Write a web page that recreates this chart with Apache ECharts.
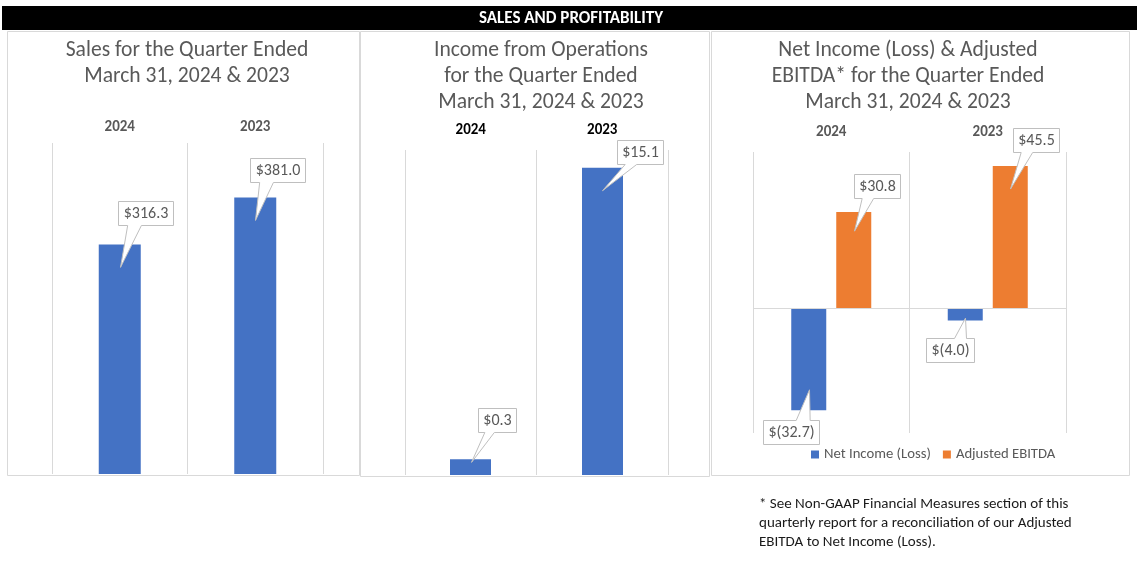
<!DOCTYPE html>
<html>
<head>
<meta charset="utf-8">
<script src="https://cdn.jsdelivr.net/npm/echarts@6.0.0/dist/echarts.min.js"></script>
<style>
html,body{margin:0;padding:0;background:#fff;}
#chart{width:1141px;height:571px;}
</style>
</head>
<body>
<div id="chart"></div>
<script>
// ---------- data ----------
const salesCategories = ['2024', '2023'];
const salesValues = [316.3, 381.0];

const incomeCategories = ['2024', '2023'];
const incomeValues = [0.3, 15.1];

const netCategories = ['2024', '2023'];
const netIncomeValues = [-32.7, -4.0];
const ebitdaValues = [30.8, 45.5];

const seriesNames = ['Net Income (Loss)', 'Adjusted EBITDA'];

const headerText = 'SALES AND PROFITABILITY';
const titleSales = ['Sales for the Quarter Ended', 'March 31, 2024 & 2023'];
const titleIncome = ['Income from Operations', 'for the Quarter Ended', 'March 31, 2024 & 2023'];
const titleNet = ['Net Income (Loss) & Adjusted', 'EBITDA* for the Quarter Ended', 'March 31, 2024 & 2023'];
const footnoteLines = [
  '* See Non-GAAP Financial Measures section of this',
  'quarterly report for a reconciliation of our Adjusted',
  'EBITDA to Net Income (Loss).'
];

// ---------- style / layout ----------
const FONT = "Carlito, Lato, 'Open Sans', sans-serif";
const BLUE = '#4472C4';
const ORANGE = '#ED7D31';
const GRID = '#d9d9d9';
const GRAY = '#595959';

const INCOME_MIN = -0.5, INCOME_MAX = 16;
const NET_BAR_W = 35, NET_BAR_GAP = 10;
const NET_SHIFT = (NET_BAR_W + NET_BAR_GAP) / 2;

// callout box centre offsets relative to bar end (layout only)
const salesCalloutOffsets = [[26, -31], [22.5, -27.5]];
const incomeCalloutOffsets = [[26, -39], [37.5, -16]];
const netCalloutOffsets = [[-17.5, 22], [-15.5, 29]];
const ebitdaCalloutOffsets = [[23, -26], [25.5, -26]];

function fmt(v) {
  return v < 0 ? '$(' + Math.abs(v).toFixed(1) + ')' : '$' + v.toFixed(1);
}

const measureCtx = document.createElement('canvas').getContext('2d');
const CALLOUT_FONT = '16px ' + FONT;
function textWidth(t, font) { measureCtx.font = font; return measureCtx.measureText(t).width; }

function wedgePoints(l, t, w, h, tip) {
  const r = l + w, b = t + h, cx = l + w / 2, cy = t + h / 2;
  const dx = tip[0] - cx, dy = tip[1] - cy;
  const dz = Math.abs(dy) - Math.abs(dx * h / w);
  const x1 = l + w * (dx > 0 ? 7 : 2) / 12, x2 = l + w * (dx > 0 ? 10 : 5) / 12;
  const y1 = t + h * (dy > 0 ? 7 : 2) / 12, y2 = t + h * (dy > 0 ? 10 : 5) / 12;
  if (dz > 0) {
    if (dy > 0) return [[l, t], [r, t], [r, b], [x2, b], tip, [x1, b], [l, b]];
    return [[l, t], [x1, t], tip, [x2, t], [r, t], [r, b], [l, b]];
  }
  if (dx > 0) return [[l, t], [r, t], [r, y1], tip, [r, y2], [r, b], [l, b]];
  return [[l, t], [r, t], [r, b], [l, b], [l, y2], tip, [l, y1]];
}

function calloutSeries(xi, yi, values, offsets, shift, baseValue) {
  return {
    type: 'custom', xAxisIndex: xi, yAxisIndex: yi, z: 10, silent: true,
    data: values.map((v, i) => [i, v]),
    renderItem(params, api) {
      const i = params.dataIndex;
      const v = api.value(1);
      const p = api.coord([api.value(0), v]);
      const base = api.coord([api.value(0), baseValue]);
      const x = p[0] + shift;
      const hpx = Math.abs(base[1] - p[1]);
      const inset = Math.min(23, 0.2 * hpx);
      const sign = v >= 0 ? 1 : -1;
      const tip = [Math.round(x) + 0.5, p[1] + sign * inset];
      const text = fmt(v);
      const bw = Math.round(textWidth(text, CALLOUT_FONT) + 10), bh = 24;
      const cx = x + offsets[i][0], cy = p[1] + offsets[i][1];
      const l = Math.round(cx - bw / 2) + 0.5, t = Math.round(cy - bh / 2) + 0.5;
      return {
        type: 'group',
        children: [
          { type: 'polygon', shape: { points: wedgePoints(l, t, bw, bh, tip) },
            style: { fill: '#fff', stroke: '#bfbfbf', lineWidth: 1 } },
          { type: 'text', x: l + bw / 2, y: t + bh / 2 + 0.5,
            style: { text: text, align: 'center', verticalAlign: 'middle', fill: GRAY, font: CALLOUT_FONT } }
        ]
      };
    }
  };
}

function catAxis(gi, cats, color, margin) {
  return {
    type: 'category', gridIndex: gi, data: cats, position: 'top',
    axisLine: { show: false }, axisTick: { show: false },
    splitLine: { show: true, lineStyle: { color: GRID, width: 1 } },
    axisLabel: { color: color, fontWeight: 'bold', fontSize: 15, fontFamily: FONT, margin: margin }
  };
}
function valAxis(gi, min, max) {
  return { type: 'value', gridIndex: gi, min: min, max: max, show: false, splitLine: { show: false } };
}

function titleTexts(lines, cx, ys) {
  return lines.map((s, k) => ({
    type: 'text', x: cx, y: ys[k], silent: true,
    style: { text: s, align: 'center', verticalAlign: 'middle', fill: GRAY, font: '21.6px ' + FONT }
  }));
}

const graphics = [
  { type: 'rect', shape: { x: 2, y: 6, width: 1135, height: 24 }, style: { fill: '#000' }, silent: true },
  { type: 'text', x: 571, y: 18.5, silent: true,
    style: { text: headerText, align: 'center', verticalAlign: 'middle', fill: '#fff', font: 'bold 17px ' + FONT } },
  { type: 'rect', shape: { x: 7.5, y: 31.5, width: 352, height: 444 }, style: { fill: 'none', stroke: GRID, lineWidth: 1 }, silent: true },
  { type: 'rect', shape: { x: 360.5, y: 31.5, width: 349, height: 445 }, style: { fill: 'none', stroke: GRID, lineWidth: 1 }, silent: true },
  { type: 'rect', shape: { x: 711.5, y: 31.5, width: 418, height: 444 }, style: { fill: 'none', stroke: GRID, lineWidth: 1 }, silent: true }
]
  .concat(titleTexts(titleSales, 187, [51, 77]))
  .concat(titleTexts(titleIncome, 541, [50.5, 76.5, 103]))
  .concat(titleTexts(titleNet, 908, [50.5, 76.5, 103]))
  .concat(footnoteLines.map((s, k) => ({
    type: 'text', x: 759, y: 504 + k * 19, silent: true,
    style: { text: s, align: 'left', verticalAlign: 'middle', fill: '#1a1a1a', font: '15px ' + FONT }
  })));

const chart = echarts.init(document.getElementById('chart'), null, { renderer: 'canvas' });
chart.setOption({
  animation: false,
  backgroundColor: '#fff',
  graphic: graphics,
  legend: {
    data: seriesNames, left: 806, top: 442, icon: 'rect', itemWidth: 8, itemHeight: 8, itemGap: 12,
    textStyle: { color: GRAY, fontSize: 14.7, fontFamily: FONT }, selectedMode: false
  },
  grid: [
    { left: 52, top: 143, width: 271, height: 331 },
    { left: 405, top: 150, width: 263, height: 325 },
    { left: 753, top: 152, width: 313, height: 281 }
  ],
  xAxis: [
    catAxis(0, salesCategories, GRAY, 8),
    catAxis(1, incomeCategories, '#000', 12),
    catAxis(2, netCategories, GRAY, 12)
  ],
  yAxis: [
    valAxis(0, 0, 456),
    valAxis(1, INCOME_MIN, INCOME_MAX),
    valAxis(2, -40, 50)
  ],
  series: [
    { type: 'bar', name: 'Sales', xAxisIndex: 0, yAxisIndex: 0, data: salesValues, barWidth: 42,
      itemStyle: { color: BLUE }, silent: true },
    { type: 'custom', name: 'Income', xAxisIndex: 1, yAxisIndex: 1, silent: true,
      data: incomeValues.map((v, i) => [i, v]),
      renderItem(params, api) {
        const base = api.coord([api.value(0), INCOME_MIN]);
        const top = api.coord([api.value(0), api.value(1)]);
        const w = 41;
        return { type: 'rect', shape: { x: Math.round(top[0] - w / 2), y: top[1], width: w, height: base[1] - top[1] },
          style: { fill: BLUE } };
      } },
    { type: 'bar', name: seriesNames[0], xAxisIndex: 2, yAxisIndex: 2, data: netIncomeValues,
      barWidth: NET_BAR_W, barGap: (NET_BAR_GAP / NET_BAR_W * 100) + '%', itemStyle: { color: BLUE }, silent: true,
      markLine: { silent: true, symbol: 'none', label: { show: false },
        lineStyle: { color: GRID, type: 'solid', width: 1 }, data: [{ yAxis: 0 }] } },
    { type: 'bar', name: seriesNames[1], xAxisIndex: 2, yAxisIndex: 2, data: ebitdaValues,
      barWidth: NET_BAR_W, barGap: (NET_BAR_GAP / NET_BAR_W * 100) + '%', itemStyle: { color: ORANGE }, silent: true },
    calloutSeries(0, 0, salesValues, salesCalloutOffsets, 0, 0),
    calloutSeries(1, 1, incomeValues, incomeCalloutOffsets, 0, INCOME_MIN),
    calloutSeries(2, 2, netIncomeValues, netCalloutOffsets, -NET_SHIFT, 0),
    calloutSeries(2, 2, ebitdaValues, ebitdaCalloutOffsets, NET_SHIFT, 0)
  ]
});
</script>
</body>
</html>
